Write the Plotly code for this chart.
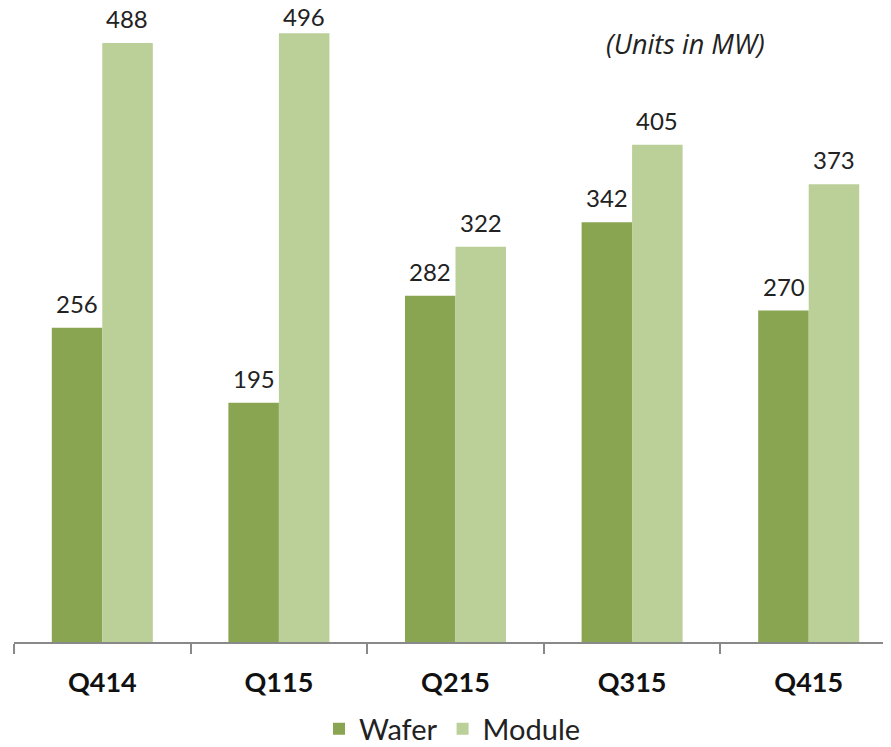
import plotly.graph_objects as go

quarters = ["Q414", "Q115", "Q215", "Q315", "Q415"]
wafer = [256, 195, 282, 342, 270]
module = [488, 496, 322, 405, 373]

WAFER_COLOR = "#8AA552"
MODULE_COLOR = "#BBCF98"
LABEL_FONT = dict(family="Lato", size=24, color="#222222")

# page body has an 8px margin, so the figure is sized to fit inside the window
W, H = 883, 739
PLOT_H = 634
Y_MAX = 516.5

fig = go.Figure()
fig.add_trace(go.Bar(x=quarters, y=wafer, name="Wafer",
                     marker=dict(color=WAFER_COLOR, line_width=0)))
fig.add_trace(go.Bar(x=quarters, y=module, name="Module",
                     marker=dict(color=MODULE_COLOR, line_width=0)))

# value labels above each bar (grouped offset of half a bar width),
# pushed down a little when there is no room left at the top
half = 0.1425
for i, (w, m) in enumerate(zip(wafer, module)):
    for dx, v in ((-half, w), (half, m)):
        room = (Y_MAX - v) * PLOT_H / Y_MAX
        fig.add_annotation(x=i + dx, y=v, text=str(v), showarrow=False,
                           xanchor="center", yanchor="bottom", borderpad=0,
                           yshift=min(9, room - 24),
                           font=LABEL_FONT)

fig.add_annotation(
    text="<i>(Units in MW)</i>",
    xref="paper", yref="paper", x=0.766, y=1 - 36 / PLOT_H,
    xanchor="center", yanchor="middle",
    showarrow=False,
    font=dict(family="Open Sans", size=27, color="#222222"),
)

fig.update_xaxes(
    type="category",
    range=[-0.5, 4.466],
    tickson="boundaries",
    ticks="outside", ticklen=10, tickwidth=2, tickcolor="#898989",
    showline=True, linecolor="#898989", linewidth=2,
    tickfont=dict(family="Lato", size=27, color="#111111", weight="bold"),
    ticklabelstandoff=16,
    showgrid=False, automargin=False,
)
fig.update_yaxes(visible=False, range=[0, Y_MAX], showgrid=False, automargin=False)

fig.update_layout(
    width=W, height=H,
    barmode="group", bargap=0.428, bargroupgap=0,
    margin=dict(l=6, r=0, t=0, b=H - PLOT_H, autoexpand=False),
    plot_bgcolor="white", paper_bgcolor="white",
    legend=dict(
        orientation="h", x=0.5, xanchor="center", y=-87 / PLOT_H, yanchor="middle",
        font=dict(family="Lato", size=29, color="#222222"),
        itemwidth=30, tracegroupgap=0,
    ),
)

fig.write_html("out.html")
